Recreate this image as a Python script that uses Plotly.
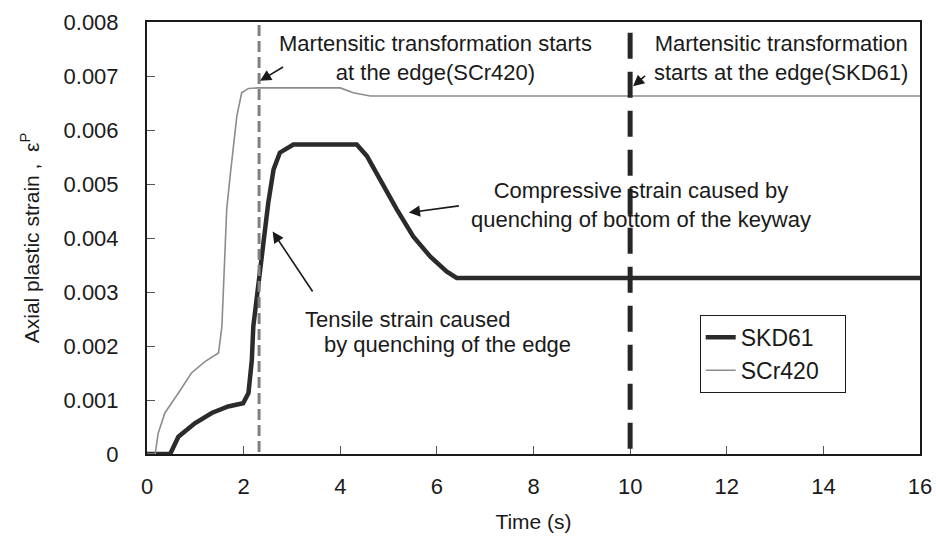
import plotly.graph_objects as go

# ---- data ----
scr420_t = [0.0, 0.17, 0.23, 0.37, 0.65, 0.92, 1.20, 1.48, 1.55, 1.61, 1.65, 1.72, 1.79,
            1.86, 1.96, 2.10, 2.30, 4.00, 4.27, 4.62, 16.0]
scr420_e = [0.0, 0.0, 0.00038, 0.00076, 0.00113, 0.00150, 0.00171, 0.00187, 0.00236, 0.00360,
            0.00453, 0.00514, 0.00576, 0.00626, 0.00669, 0.00677, 0.00678, 0.00678, 0.00669,
            0.00663, 0.00663]

skd61_t = [0.0, 0.48, 0.65, 0.99, 1.34, 1.68, 1.99, 2.10, 2.17, 2.20, 2.31, 2.41, 2.51, 2.62,
           2.75, 3.03, 4.34, 4.55, 4.82, 5.17, 5.51, 5.86, 6.20, 6.41, 16.0]
skd61_e = [0.0, 0.0, 0.00032, 0.00057, 0.00076, 0.00088, 0.00094, 0.00113, 0.00174, 0.00236,
           0.00317, 0.00397, 0.00465, 0.00527, 0.00558, 0.00573, 0.00573, 0.00552, 0.00508,
           0.00453, 0.00403, 0.00366, 0.00338, 0.00326, 0.00326]

series_names = ["SKD61", "SCr420"]
transform_times = [2.32, 10.0]          # SCr420, SKD61 martensite start at the edge

x_ticks = [0, 2, 4, 6, 8, 10, 12, 14, 16]
y_ticks = [0, 0.001, 0.002, 0.003, 0.004, 0.005, 0.006, 0.007, 0.008]
y_tick_text = ["0", "0.001", "0.002", "0.003", "0.004", "0.005", "0.006", "0.007", "0.008"]

FONT = "Liberation Sans, Arial, sans-serif"

fig = go.Figure()
fig.add_trace(go.Scatter(x=skd61_t, y=skd61_e, mode="lines",
                         name=series_names[0] + "&nbsp;&nbsp;&nbsp;&nbsp;",
                         line=dict(color="#2b2b2b", width=4.5)))
fig.add_trace(go.Scatter(x=scr420_t, y=scr420_e, mode="lines", name=series_names[1],
                         line=dict(color="#8c8c8c", width=1.6)))

# vertical dashed markers (drawn top-down so the dash pattern starts at the top)
fig.add_shape(type="line", xref="x", yref="paper", x0=transform_times[0], x1=transform_times[0],
              y0=0.993, y1=0, line=dict(color="#808080", width=3, dash="11px,5px"))
fig.add_shape(type="line", xref="x", yref="paper", x0=transform_times[1], x1=transform_times[1],
              y0=0.975, y1=0, line=dict(color="#262626", width=5, dash="26px,13px"))

ann_font = dict(family=FONT, size=22, color="#1a1a1a")

def text(x, y, s, xanchor="center"):
    fig.add_annotation(x=x, y=y, xref="x", yref="y", text=s, showarrow=False,
                       font=ann_font, xanchor=xanchor, yanchor="middle", align="center")

def arrow(x, y, ax, ay):
    fig.add_annotation(x=x, y=y, xref="x", yref="y", text=" ", showarrow=True,
                       ax=ax, ay=ay, arrowhead=2, arrowsize=1.4, arrowwidth=1.6,
                       arrowcolor="#1a1a1a", font=dict(size=2))

text(5.98, 0.00733, "Martensitic transformation starts<br>at the edge(SCr420)")
text(13.12, 0.00733, "Martensitic transformation<br>starts at the edge(SKD61)")
text(10.23, 0.00461, "Compressive strain caused by<br>quenching of bottom of the keyway")
text(3.23, 0.00250, "Tensile strain caused", xanchor="left")
text(3.62, 0.00202, "by quenching of the edge", xanchor="left")

arrow(transform_times[0] + 0.02, 0.00691, 25, -15)
arrow(10.06, 0.00681, 14, -12)
arrow(5.42, 0.00447, 52, -7)
arrow(2.60, 0.00412, 42, 63)

axis_common = dict(showline=True, linecolor="#1a1a1a", linewidth=2, mirror=True,
                   ticks="inside", ticklen=8, tickwidth=1, tickcolor="#555",
                   showgrid=False, zeroline=False, automargin=False,
                   tickfont=dict(family=FONT, size=22, color="#1a1a1a"))

fig.update_xaxes(range=[0, 16], tickvals=x_ticks, ticklabelstandoff=12,
                 title=dict(text="Time (s)", font=dict(family=FONT, size=21, color="#1a1a1a"),
                            standoff=16),
                 **axis_common)
fig.update_yaxes(range=[0, 0.008], tickvals=y_ticks, ticktext=y_tick_text, ticklabelstandoff=22,
                 title=dict(text="Axial plastic strain ,  ε<sup>P</sup>",
                            font=dict(family=FONT, size=21, color="#1a1a1a"), standoff=18),
                 **axis_common)

fig.update_layout(
    width=936, height=543,
    margin=dict(l=147, r=16, t=22, b=89),
    paper_bgcolor="white", plot_bgcolor="white",
    showlegend=True,
    legend=dict(x=0.715, y=0.322, xanchor="left", yanchor="top",
                bgcolor="white", bordercolor="#1a1a1a", borderwidth=1,
                font=dict(family=FONT, size=23, color="#1a1a1a"),
                tracegroupgap=0, itemwidth=30),
)

fig.write_html("out.html")
